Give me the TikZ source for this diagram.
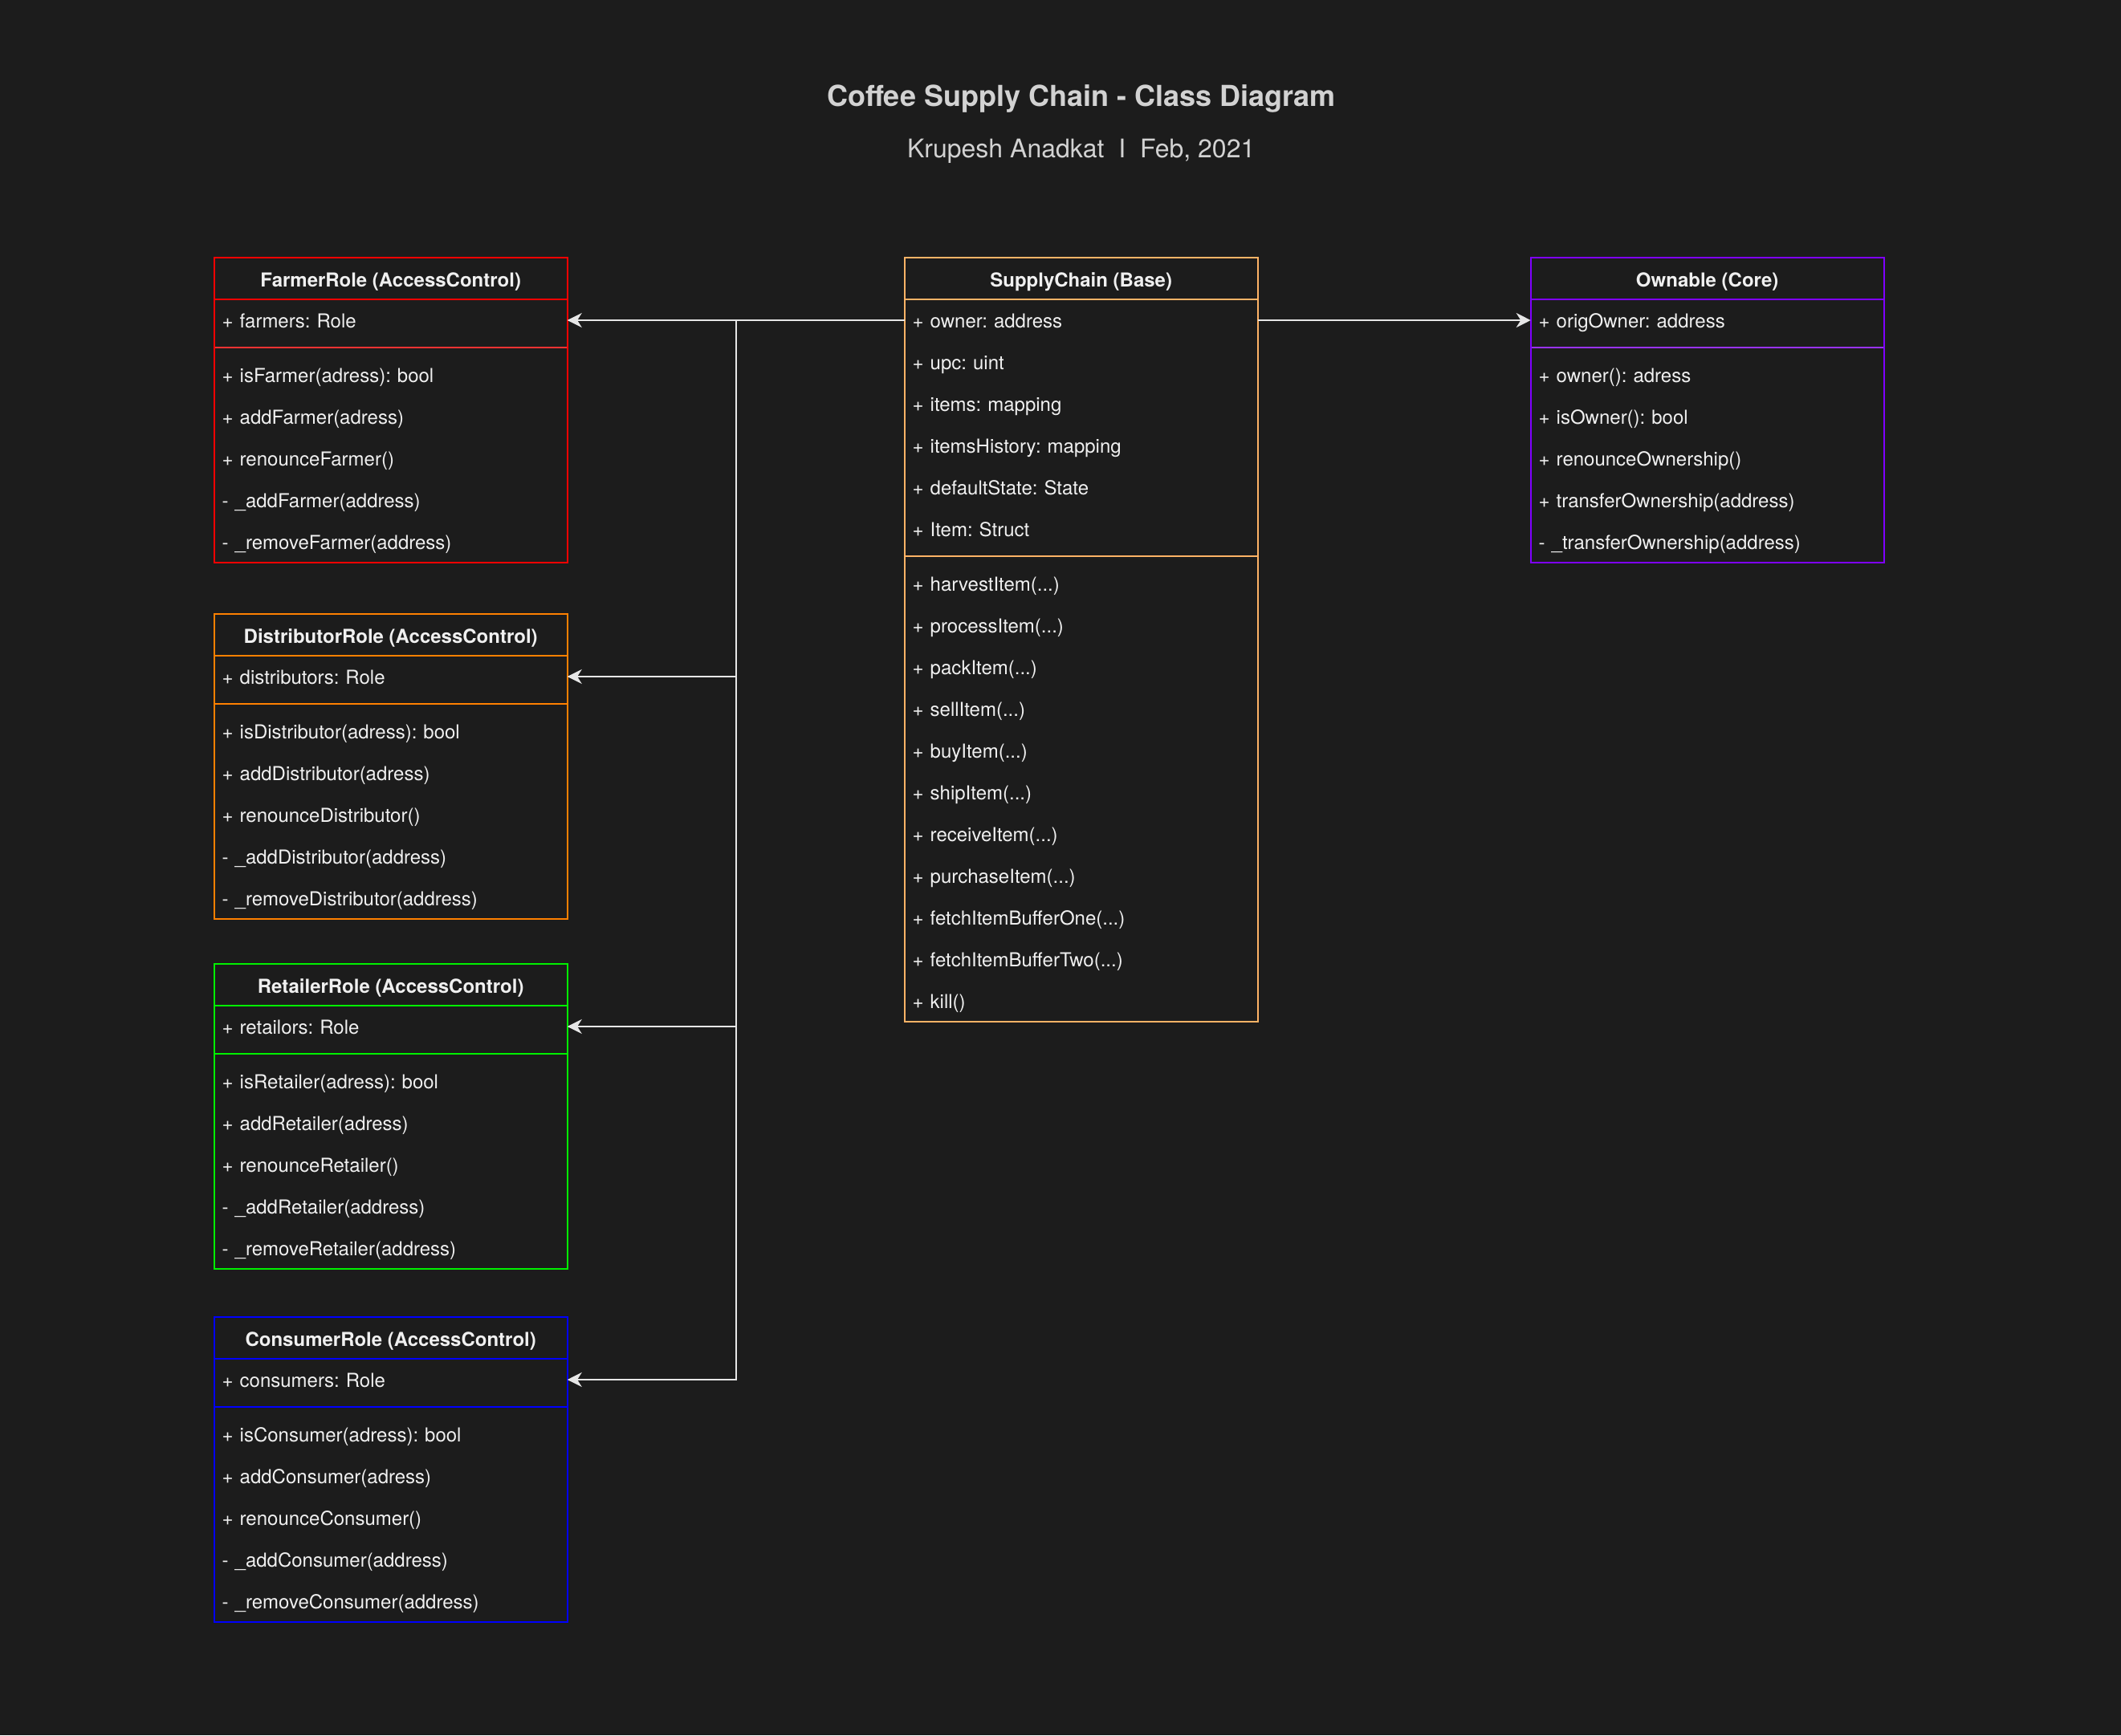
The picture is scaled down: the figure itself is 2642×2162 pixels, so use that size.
\documentclass[tikz,border=0pt]{standalone}
\usepackage{fontspec}
\setmainfont{TeX Gyre Heros}
\usepackage{tikz}
\usetikzlibrary{arrows.meta}
\usetikzlibrary{calc, positioning}
\frenchspacing

\definecolor{bg}{HTML}{1C1C1C}
\definecolor{fg}{HTML}{F0F0F0}
\definecolor{headfg}{HTML}{D2D2D2}
\definecolor{wire}{HTML}{E6E6E6}
\definecolor{farmerc}{HTML}{FF0000}
\definecolor{farmerr}{HTML}{FF3333}
\definecolor{distc}{HTML}{FF8000}
\definecolor{retailc}{HTML}{00F000}
\definecolor{consc}{HTML}{0000FF}
\definecolor{basec}{HTML}{FFB366}
\definecolor{ownc}{HTML}{7F00FF}
\definecolor{ownr}{HTML}{9933FF}

\newcommand\threedots{...}

\tikzset{
  headbox/.style={draw, line width=1pt, anchor=north west, minimum width=220pt,
    minimum height=26pt, inner sep=0pt, outer sep=0pt, text=fg, text height=10pt,
    text depth=0pt, font=\bfseries\fontsize{12}{14}\selectfont},
  rowbox/.style={anchor=north west, text width=210pt, inner xsep=5pt, inner ysep=0pt,
    outer sep=0pt, minimum height=26pt, align=left, text=fg, text height=9.3pt,
    text depth=0pt, font=\fontsize{12}{14}\selectfont},
  link/.style={draw=wire, line width=1pt, -{Stealth[length=9pt,width=9pt,inset=2.8pt]}},
}

% #1 name, #2 top left, #3 frame, #4 rule, #5 title, #6 attributes, #7 methods
\newcommand\umlclass[7]{%
  \node[headbox, draw=#3] (#1) at (#2) {#5};
  \foreach \t [count=\i] in {#6} {
    \node[rowbox] (#1-a\i) at ([yshift={-26pt*(\i-1)}]#1.south west) {\t};
    \coordinate (#1-abot) at (#1-a\i.south west);
  }
  \draw[#4, line width=1pt] ([yshift=-4pt]#1-abot) -- ++(220pt,0);
  \foreach \t [count=\i] in {#7} {
    \node[rowbox] (#1-m\i) at ([yshift={-8pt-26pt*(\i-1)}]#1-abot) {\t};
    \coordinate (#1-mbot) at (#1-m\i.south east);
  }
  \draw[#3, line width=1pt] (#1.north west) rectangle (#1-mbot);
}

\begin{document}
\begin{tikzpicture}[x=0.5pt, y=-0.5pt]
  \path[use as bounding box, fill=bg] (0,0) rectangle (2642,2162);

  % heading
  \node[anchor=base, text=headfg, font=\bfseries\fontsize{18}{22}\selectfont] (title) at (1346.7,133) {Coffee Supply Chain - Class Diagram};
  \node[anchor=base, text=headfg, font=\fontsize{16}{19}\selectfont] (byline) at (1346.7,196) {Krupesh Anadkat~~I~~Feb, 2021};

  % role contracts
  \umlclass{farmer}{266.7,321}{farmerc}{farmerr}{FarmerRole (AccessControl)}
    {+ farmers: Role}
    {+ isFarmer(adress): bool, + addFarmer(adress), + renounceFarmer(), - \_addFarmer(address), - \_removeFarmer(address)}
  \umlclass{dist}{266.7,765}{distc}{distc}{DistributorRole (AccessControl)}
    {+ distributors: Role}
    {+ isDistributor(adress): bool, + addDistributor(adress), + renounceDistributor(), - \_addDistributor(address), - \_removeDistributor(address)}
  \umlclass{retail}{266.7,1201}{retailc}{retailc}{RetailerRole (AccessControl)}
    {+ retailors: Role}
    {+ isRetailer(adress): bool, + addRetailer(adress), + renounceRetailer(), - \_addRetailer(address), - \_removeRetailer(address)}
  \umlclass{cons}{266.7,1641}{consc}{consc}{ConsumerRole (AccessControl)}
    {+ consumers: Role}
    {+ isConsumer(adress): bool, + addConsumer(adress), + renounceConsumer(), - \_addConsumer(address), - \_removeConsumer(address)}

  % base contract
  \umlclass{sc}{1126.7,321}{basec}{basec}{SupplyChain (Base)}
    {+ owner: address, + upc: uint, + items: mapping, + itemsHistory: mapping, + defaultState: State, + Item: Struct}
    {+ harvestItem(\threedots), + processItem(\threedots), + packItem(\threedots), + sellItem(\threedots), + buyItem(\threedots), + shipItem(\threedots), + receiveItem(\threedots), + purchaseItem(\threedots), + fetchItemBufferOne(\threedots), + fetchItemBufferTwo(\threedots), + kill()}

  % core contract
  \umlclass{own}{1906.7,321}{ownc}{ownr}{Ownable (Core)}
    {+ origOwner: address}
    {+ owner(): adress, + isOwner(): bool, + renounceOwnership(), + transferOwnership(address), - \_transferOwnership(address)}

  % inheritance links
  \coordinate (hub) at ($(sc-a1.west)!0.5!(farmer-a1.east)$);
  \draw[link] (sc-a1.west) -- (farmer-a1.east);
  \foreach \r in {dist, retail, cons}
    \draw[link] (sc-a1.west) -- (hub) |- (\r-a1.east);
  \draw[link] (sc-a1.east) -- (own-a1.west);
\end{tikzpicture}
\end{document}
